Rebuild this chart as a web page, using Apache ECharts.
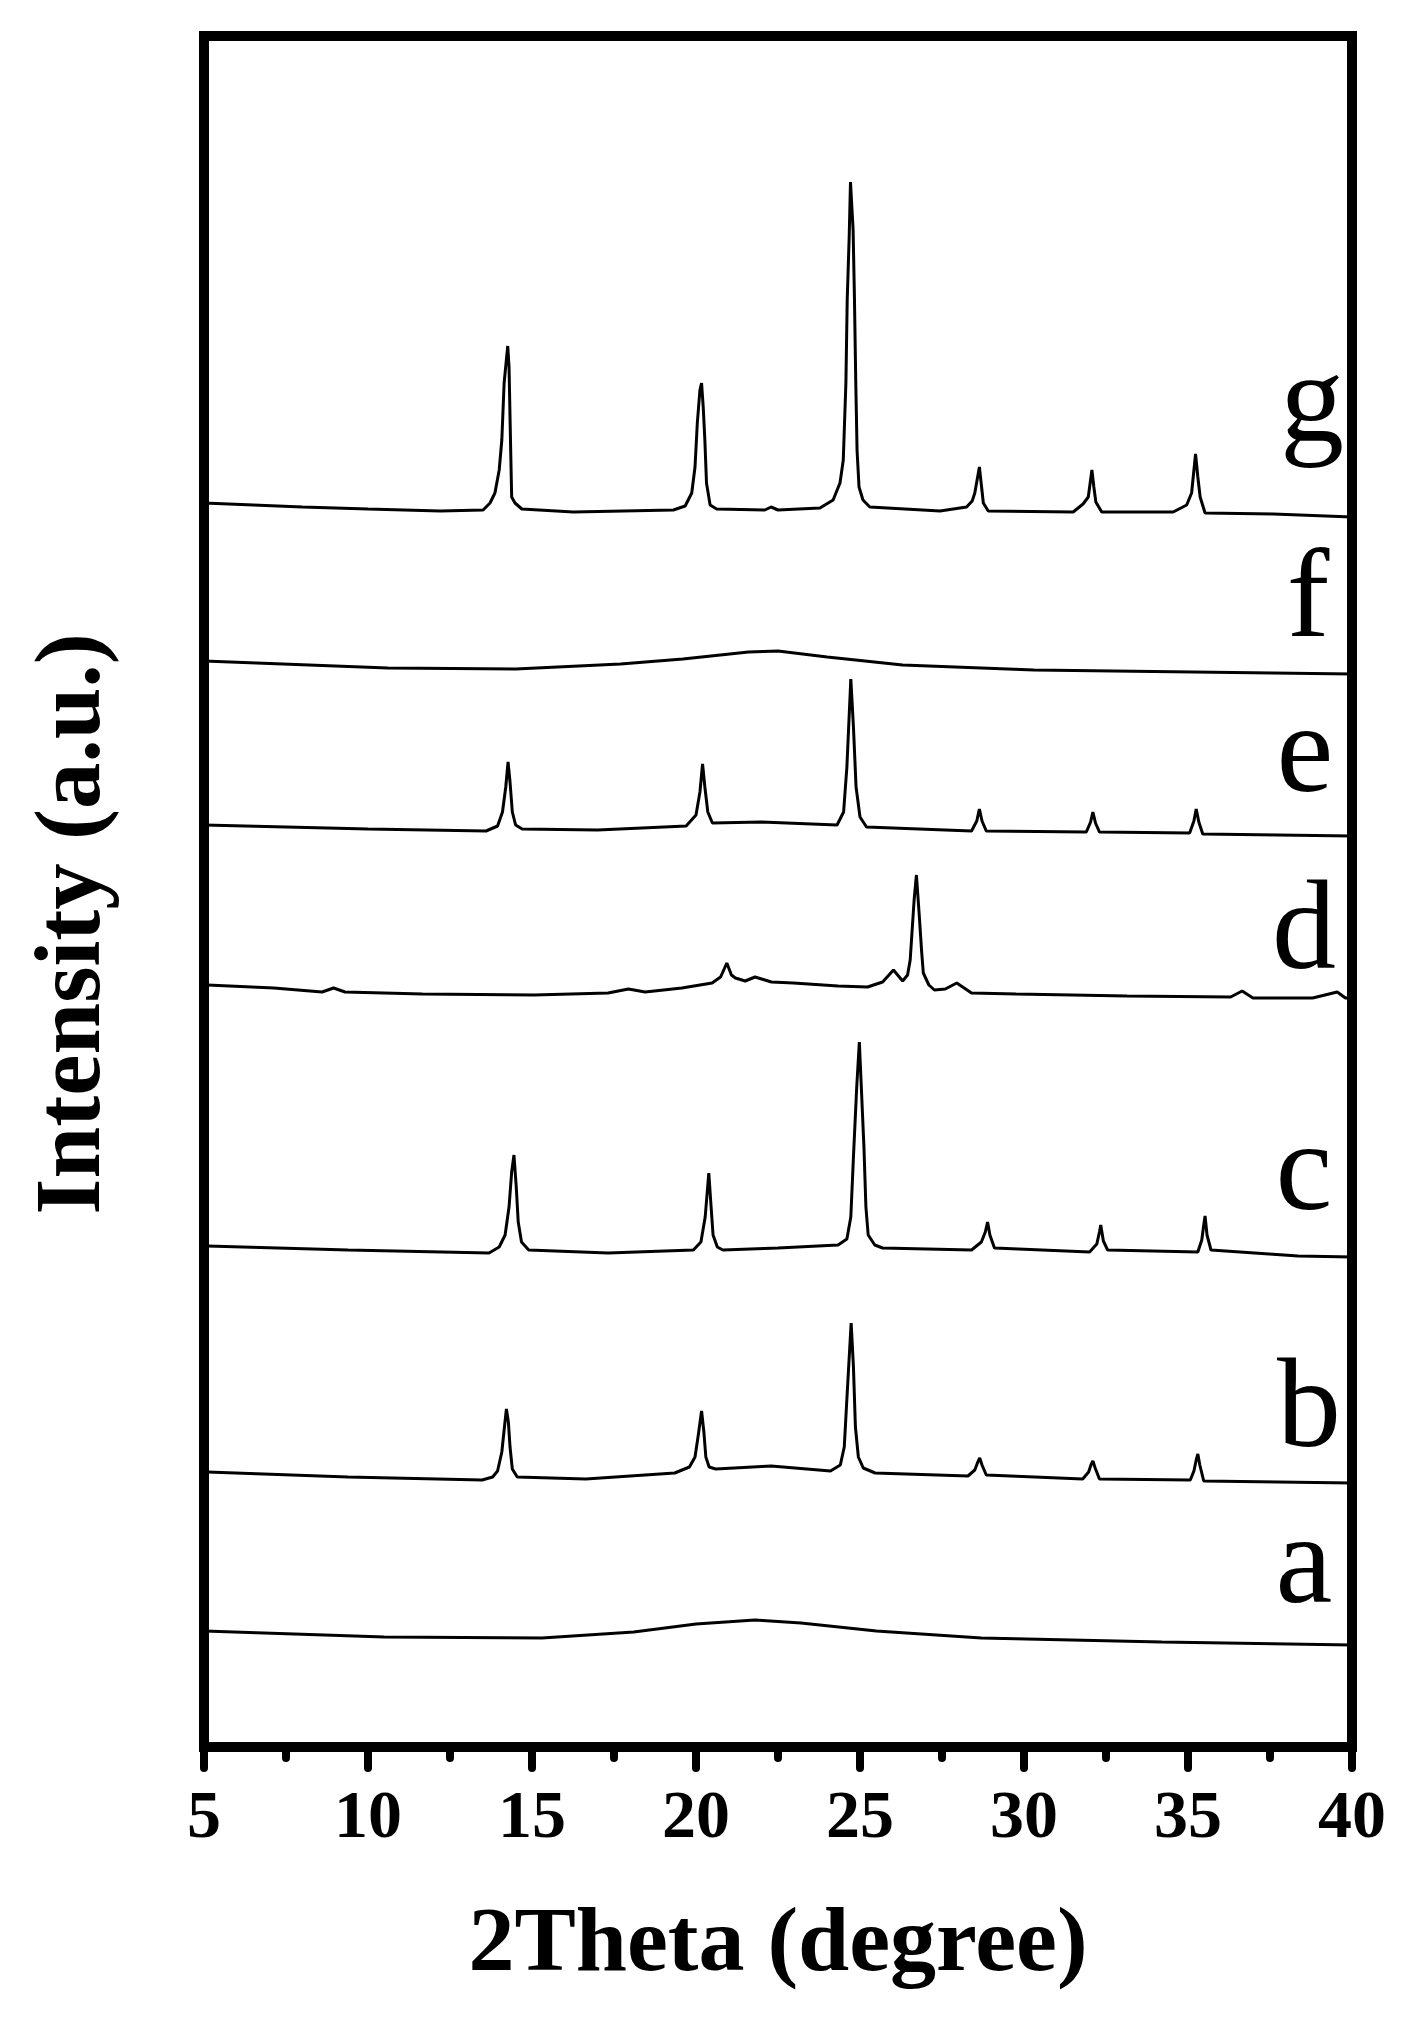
<!DOCTYPE html>
<html>
<head>
<meta charset="utf-8">
<script src="https://cdn.jsdelivr.net/npm/echarts/dist/echarts.min.js"></script>
<style>
html,body{margin:0;padding:0;background:#fff;}
#chart{width:1405px;height:2022px;}
</style>
</head>
<body>
<div id="chart"></div>
<script>
// ---- data (2Theta in degree, intensity in arbitrary units, offsets included) ----
const xTickLabels = ['5','10','15','20','25','30','35','40'];
const seriesNames = ['a','b','c','d','e','f','g'];

const traceA = [[5,116],[10.5,110],[15.3,109],[18.1,115],[20,123],[21.8,127],[23.2,124],[25.5,116],[28.7,109],[34.2,105],[40,102]];

const traceB = [[5.1,275],[9.39,270],[13.48,267],[13.8,270],[13.95,276],[14.08,295],[14.16,320],[14.22,338],[14.28,325],[14.33,300],[14.4,278],[14.55,270],[16.64,268],[19.35,274],[19.8,280],[19.97,290],[20.07,312],[20.17,336],[20.24,315],[20.3,290],[20.4,280],[20.6,278],[22.29,281],[24.1,276],[24.4,282],[24.52,300],[24.62,360],[24.73,424],[24.8,380],[24.86,320],[24.95,290],[25.1,279],[25.46,274],[28.29,271],[28.5,277],[28.58,284],[28.65,289],[28.72,282],[28.85,272],[31.79,268],[31.97,275],[32.04,282],[32.1,286],[32.17,279],[32.3,268],[35.07,267],[35.18,276],[35.25,287],[35.3,293],[35.36,282],[35.48,266],[40,264]];

const traceC = [[5.1,501],[9.39,497],[13.69,494],[14.0,500],[14.18,512],[14.3,540],[14.38,575],[14.45,592],[14.52,560],[14.58,525],[14.68,505],[14.9,497],[17.32,494],[19.92,497],[20.15,505],[20.28,530],[20.39,574],[20.45,545],[20.52,512],[20.65,500],[20.82,497],[22.5,499],[24.33,502],[24.6,508],[24.72,530],[24.8,590],[24.9,660],[24.98,705],[25.04,660],[25.12,600],[25.18,540],[25.25,512],[25.45,502],[25.69,499],[28.4,497],[28.7,505],[28.82,515],[28.89,525],[28.96,512],[29.1,499],[32.0,495],[32.22,503],[32.3,515],[32.34,522],[32.42,506],[32.55,497],[35.3,495],[35.42,507],[35.48,522],[35.52,531],[35.58,512],[35.7,497],[38.36,491],[40,490]];

const traceD = [[5.1,762],[7.13,759],[8.6,755],[8.95,759],[9.3,755],[11.66,753],[15.06,752],[17.32,754],[17.94,758],[18.45,755],[19.57,759],[20.49,764],[20.75,770],[20.94,784],[21.08,772],[21.2,769],[21.5,766],[21.8,770],[22.3,765],[22.97,764],[24.33,761],[25.23,760],[25.69,765],[26.02,777],[26.3,766],[26.45,772],[26.53,787],[26.65,847],[26.72,872],[26.81,830],[26.88,795],[26.93,774],[27.1,762],[27.27,757],[27.6,758],[27.95,764],[28.4,754],[29.76,753],[33.14,751],[36.3,750],[36.65,756],[36.98,749],[38.8,749],[39.55,755],[39.8,749],[40,749]];

const traceE = [[5,922],[10,918],[13.6,916],[13.95,921],[14.1,935],[14.2,960],[14.27,985],[14.33,965],[14.4,935],[14.5,922],[14.7,918],[17,917],[19.7,921],[20.0,932],[20.12,955],[20.2,983],[20.27,960],[20.36,935],[20.5,924],[22.0,925],[24.3,922],[24.5,935],[24.6,980],[24.72,1068],[24.8,1020],[24.88,960],[25.0,930],[25.2,920],[28.4,916],[28.56,926],[28.64,938],[28.72,926],[28.85,916],[31.9,915],[32.03,925],[32.1,935],[32.18,924],[32.3,915],[35.05,914],[35.18,926],[35.25,938],[35.33,925],[35.45,913],[40,911]];

const traceF = [[5,1086],[10.6,1079],[14.5,1078],[17.7,1083],[19.6,1088],[21.6,1095],[22.5,1096],[24,1090],[26.3,1082],[30.3,1077],[40,1073]];

const traceG = [[5.0,1244],[8.0,1240],[10.0,1238],[12.2,1236],[13.51,1237],[13.72,1244],[13.87,1254],[14.0,1277],[14.08,1307],[14.15,1364],[14.26,1401],[14.3,1380],[14.35,1297],[14.38,1250],[14.48,1244],[14.69,1238],[16.26,1235],[19.31,1237],[19.67,1241],[19.87,1254],[19.97,1280],[20.04,1324],[20.12,1357],[20.17,1364],[20.22,1340],[20.27,1307],[20.32,1264],[20.43,1242],[20.63,1238],[22.1,1237],[22.29,1240],[22.5,1237],[23.78,1239],[24.18,1247],[24.39,1264],[24.49,1287],[24.57,1364],[24.61,1447],[24.67,1510],[24.71,1565],[24.79,1517],[24.83,1450],[24.87,1367],[24.91,1297],[24.97,1260],[25.09,1247],[25.3,1240],[27.44,1236],[28.25,1240],[28.42,1246],[28.5,1254],[28.64,1280],[28.7,1262],[28.76,1244],[28.91,1236],[31.5,1235],[31.8,1243],[31.96,1250],[32.07,1277],[32.13,1260],[32.19,1245],[32.37,1235],[34.55,1235],[34.96,1242],[35.11,1254],[35.23,1293],[35.3,1270],[35.37,1250],[35.52,1234],[37.6,1233],[40,1230]];

const traces = [traceA, traceB, traceC, traceD, traceE, traceF, traceG];

// ---- layout / style ----
const serif = "'Times New Roman', 'Liberation Serif', serif";
const labelPos = [[1304,1568],[1309,1412],[1304,1175],[1304,934],[1305,757],[1308,602],[1312,407]];

const chart = echarts.init(document.getElementById('chart'), null, {renderer:'canvas'});
chart.setOption({
  animation: false,
  backgroundColor: '#fff',
  grid: {left:204, right:53, top:36, bottom:275, show:true, borderColor:'#000', borderWidth:10, backgroundColor:'transparent'},
  xAxis: {
    type:'value', min:5, max:40, interval:5,
    name:'2Theta (degree)', nameLocation:'middle', nameGap:153,
    nameTextStyle:{fontFamily:serif, fontWeight:'bold', fontSize:92, color:'#000'},
    axisLine:{show:true, lineStyle:{color:'#000', width:10}},
    axisTick:{show:true, length:21, lineStyle:{color:'#000', width:8, cap:'round'}},
    minorTick:{show:true, splitNumber:2, length:11, lineStyle:{color:'#000', width:8, cap:'round'}},
    splitLine:{show:false}, minorSplitLine:{show:false},
    axisLabel:{margin:38, fontFamily:serif, fontWeight:'bold', fontSize:68, color:'#000',
      formatter:(v)=>xTickLabels[Math.round((v-5)/5)]}
  },
  yAxis: {
    type:'value', min:0, max:1711,
    axisLine:{show:false}, axisTick:{show:false}, axisLabel:{show:false}, splitLine:{show:false}
  },
  graphic: [
    {type:'text', x:75, y:924, rotation:Math.PI/2,
     style:{text:'Intensity (a.u.)', fontFamily:serif, fontWeight:'bold', fontSize:93, fill:'#000', textAlign:'center', textVerticalAlign:'middle'}}
  ].concat(seriesNames.map((n,i)=>({
     type:'text', x:labelPos[i][0], y:labelPos[i][1],
     style:{text:n, fontFamily:serif, fontSize:128, fill:'#000', textAlign:'center', textVerticalAlign:'middle'}
  }))),
  series: traces.map((d,i)=>({
    name: seriesNames[i], type:'line', data:d, showSymbol:false, symbol:'none',
    lineStyle:{color:'#000', width:3}, silent:true
  }))
});
</script>
</body>
</html>
